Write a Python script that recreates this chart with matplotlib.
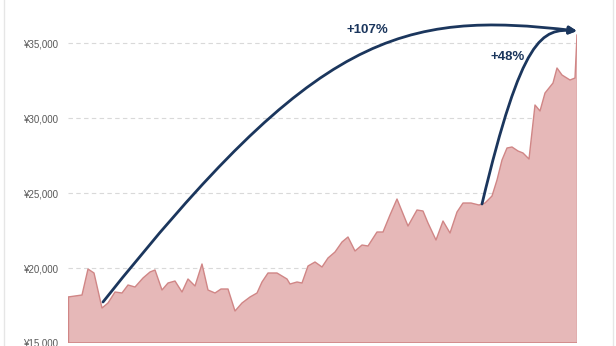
import matplotlib.pyplot as plt
import matplotlib.ticker as mticker
from matplotlib.patches import FancyArrowPatch
from matplotlib.path import Path
from matplotlib.lines import Line2D

plt.rcParams['font.family'] = ['Liberation Sans', 'DejaVu Sans']

# position along the period (left to right) and price in yen
pos = [0, 14, 20, 26, 34, 40, 47, 54, 60, 67, 75, 82, 87, 94, 100, 107, 114, 120,
       127, 134, 140, 147, 153, 160, 167, 174, 182, 189, 194, 200, 209, 219, 222,
       229, 234, 240, 247, 254, 260, 267, 274, 280, 287, 294, 300, 309, 315, 322,
       329, 340, 349, 355, 360, 368, 375, 382, 389, 395, 403, 411, 417, 424, 429,
       434, 439, 444, 450, 455, 461, 467, 472, 477, 485, 489, 494, 502, 507, 509]
price = [18067, 18200, 19933, 19667, 17333, 17667, 18400, 18333, 18867, 18733,
         19333, 19733, 19867, 18533, 19000, 19133, 18400, 19267, 18800, 20267,
         18533, 18333, 18600, 18600, 17133, 17667, 18067, 18333, 19067, 19667,
         19667, 19267, 18933, 19067, 19000, 20133, 20400, 20067, 20667, 21067,
         21733, 22067, 21133, 21533, 21467, 22400, 22400, 23533, 24600, 22800,
         23867, 23800, 23000, 21867, 23133, 22333, 23733, 24333, 24333, 24200,
         24333, 24800, 25867, 27200, 28000, 28067, 27800, 27667, 27267, 30867,
         30467, 31667, 32333, 33333, 32867, 32533, 32667, 35533]

yticks = [15000, 20000, 25000, 30000, 35000]

navy = '#1b365d'

fig = plt.figure(figsize=(6.16, 3.46), dpi=100)
ax = fig.add_axes([68 / 616, 3 / 346, 509 / 616, 343 / 346])

ax.fill_between(pos, price, 15000, facecolor='#e6b8b8', edgecolor='none', zorder=2)
ax.plot(pos, price, color='#d08686', lw=1, zorder=3)
ax.plot([pos[0], pos[-1]], [15000, 15000], color='#d08686', lw=1.2, zorder=3)
ax.plot([pos[-1], pos[-1]], [15000, price[-1]], color='#d08686', lw=1, zorder=3)
ax.plot([pos[0], pos[0]], [15000, price[0]], color='#d08686', lw=1, zorder=3)

ax.set_xlim(pos[0], pos[-1])
ax.set_ylim(15000, 37867)
ax.set_yticks(yticks)
ax.yaxis.set_major_formatter(mticker.FuncFormatter(lambda v, p: f'¥{v:,.0f}'))
ax.set_xticks([])
ax.tick_params(axis='y', length=0, pad=7, labelsize=7, labelcolor='#595959')
ax.grid(axis='y', color='#d9d9d9', linestyle=(0, (4, 3)), lw=0.8, zorder=1)
for s in ax.spines.values():
    s.set_visible(False)
ax.set_clip_on(False)

# long arrow (+107%) and short arrow (+48%)
arc1 = Path([(35, 17733), (248, 35600), (332, 37200), (509, 35800)],
            [Path.MOVETO, Path.CURVE4, Path.CURVE4, Path.CURVE4])
arc2 = Path([(414, 24267), (454, 35467), (474, 36000), (509, 35800)],
            [Path.MOVETO, Path.CURVE4, Path.CURVE4, Path.CURVE4])
for p in (arc1, arc2):
    a = FancyArrowPatch(path=p, arrowstyle='-|>', mutation_scale=11,
                        color=navy, lw=2, zorder=5, clip_on=False)
    ax.add_patch(a)

ax.text(299, 35867, '+107%', ha='center', va='center', fontsize=9.5,
        fontweight='bold', color=navy, zorder=6)
ax.text(440, 34067, '+48%', ha='center', va='center', fontsize=9.5,
        fontweight='bold', color=navy, zorder=6)

# faint frame edges
fig.add_artist(Line2D([4 / 616, 4 / 616], [0, 1], color='#e6e6e6', lw=1))
fig.add_artist(Line2D([613 / 616, 613 / 616], [0, 1], color='#e6e6e6', lw=1))

fig.savefig('out.png', dpi=100)
